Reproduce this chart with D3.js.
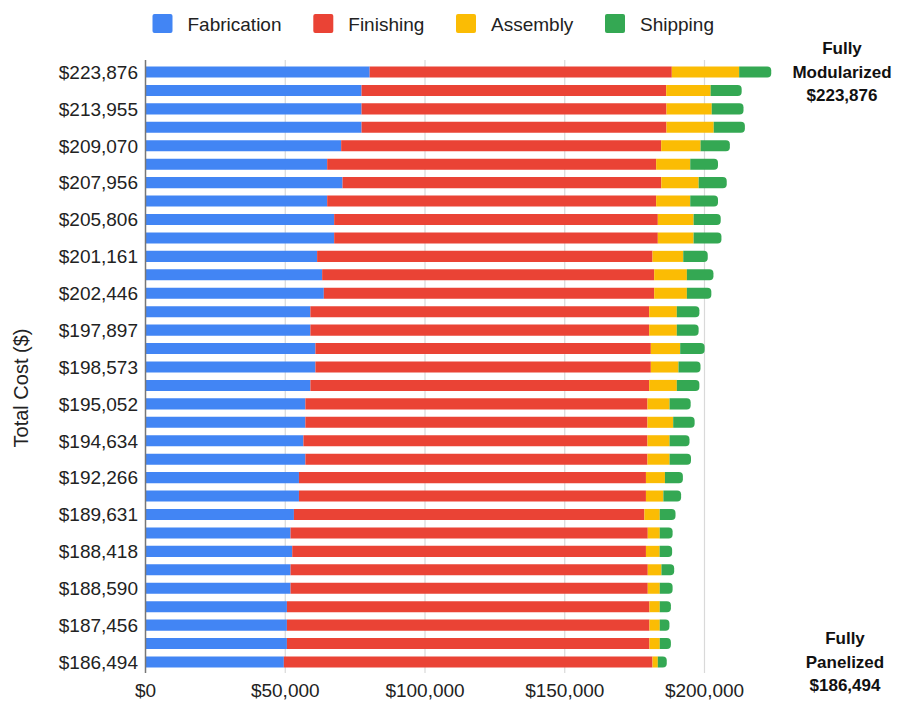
<!DOCTYPE html>
<html>
<head>
<meta charset="utf-8">
<script src="https://cdn.jsdelivr.net/npm/d3@7/dist/d3.min.js"></script>
<style>
  html, body { margin: 0; padding: 0; background: #fff; }
  svg { display: block; font-family: "Liberation Sans", Arial, sans-serif; }
</style>
</head>
<body>
<svg id="chart" width="898" height="702"></svg>
<script>
// Category labels (total cost of each configuration); only every other one is shown on the axis
const categories = [
  "$223,876", "$213,300", "$213,955", "$214,450", "$209,070", "$204,830", "$207,956", "$204,830",
  "$205,806", "$206,060", "$201,161", "$203,200", "$202,446", "$198,170", "$197,897", "$200,050",
  "$198,573", "$198,170", "$195,052", "$196,470", "$194,634", "$195,170", "$192,266", "$191,630",
  "$189,631", "$188,590", "$188,418", "$189,150", "$188,590", "$187,980", "$187,456", "$187,980",
  "$186,494"
];
const fabrication = [
  80200, 77300, 77300, 77300, 70000, 65000, 70500, 65000,
  67500, 67500, 61400, 63200, 63800, 59000, 59000, 60800,
  60800, 59000, 57200, 57200, 56500, 57200, 54900, 54900,
  53100, 51900, 52500, 51900, 51900, 50600, 50600, 50600,
  49500
];
const finishing = [
  108100, 109000, 109100, 109100, 114500, 117700, 114050, 117700,
  115800, 115800, 120000, 118800, 118200, 121200, 121200, 120000,
  120000, 121200, 122400, 122400, 123100, 122400, 124150, 124150,
  125400, 127800, 126550, 127800, 127800, 129700, 129700, 129700,
  131900
];
const assembly = [
  24100, 15900, 16200, 16900, 14100, 12200, 13360, 12200,
  12800, 12800, 11000, 11700, 11700, 9900, 9900, 10500,
  9900, 9900, 7900, 9200, 7900, 7900, 6800, 6230,
  5480, 4300, 4900, 4900, 4300, 3700, 3700, 3700,
  1900
];
const shipping = [
  11476, 11100, 11355, 11150, 10470, 9930, 10046, 9930,
  9706, 9960, 8761, 9500, 8746, 8070, 7797, 8750,
  7873, 8070, 7552, 7670, 7134, 7670, 6416, 6350,
  5651, 4590, 4468, 4550, 4590, 3980, 3456, 3980,
  3194
];
const seriesNames = ["Fabrication", "Finishing", "Assembly", "Shipping"];
const seriesColors = ["#4285F4", "#EA4335", "#FBBC04", "#34A853"];
const xTicks = [0, 50000, 100000, 150000, 200000];
const annotationTop = ["Fully", "Modularized", "$223,876"];
const annotationBottom = ["Fully", "Panelized", "$186,494"];

(function () {
const svg = d3.select("#chart");
const rows = categories.map((c, i) => ({
  cat: c, idx: i,
  Fabrication: fabrication[i], Finishing: finishing[i], Assembly: assembly[i], Shipping: shipping[i]
}));

const x = d3.scaleLinear().domain([0, 200000]).range([145.5, 704.5]);
const y = d3.scaleBand().domain(d3.range(categories.length)).range([62.8, 671.2])
  .paddingInner(0.4).paddingOuter(0.2);

const plotTop = 60, plotBottom = 673;

// Gridlines
svg.append("g").selectAll("line").data(xTicks.filter(t => t > 0)).join("line")
  .attr("x1", d => x(d)).attr("x2", d => x(d))
  .attr("y1", plotTop).attr("y2", plotBottom)
  .attr("stroke", "#d9d9d9").attr("stroke-width", 1.2);

// Stacked bars
const stacked = d3.stack().keys(seriesNames)(rows);

function roundRight(x0, x1, y0, h, r) {
  r = Math.min(r, (x1 - x0), h / 2);
  return `M${x0},${y0}H${x1 - r}A${r},${r} 0 0 1 ${x1},${y0 + r}V${y0 + h - r}A${r},${r} 0 0 1 ${x1 - r},${y0 + h}H${x0}Z`;
}

const g = svg.append("g");
stacked.forEach((layer, li) => {
  const isLast = li === stacked.length - 1;
  g.append("g").attr("fill", seriesColors[li])
    .selectAll("path").data(layer).join("path")
    .attr("d", d => {
      const x0 = x(d[0]), x1 = x(d[1]), y0 = y(d.data.idx), h = y.bandwidth();
      if (isLast) return roundRight(x0, x1, y0, h, 4);
      return `M${x0},${y0}H${x1}V${y0 + h}H${x0}Z`;
    });
});

// Left axis line
svg.append("line")
  .attr("x1", x(0)).attr("x2", x(0)).attr("y1", plotTop).attr("y2", plotBottom)
  .attr("stroke", "#777").attr("stroke-width", 1.5);

// Y tick labels (every other category)
svg.append("g").selectAll("text").data(rows.filter(r => r.idx % 2 === 0)).join("text")
  .attr("x", 138).attr("y", d => y(d.idx) + y.bandwidth() / 2)
  .attr("dy", "0.36em").attr("text-anchor", "end")
  .attr("font-size", 19).attr("fill", "#222")
  .text(d => d.cat);

// X tick labels
const fmt = d3.format("$,");
svg.append("g").selectAll("text").data(xTicks).join("text")
  .attr("x", d => x(d)).attr("y", 697)
  .attr("text-anchor", "middle")
  .attr("font-size", 19).attr("fill", "#222")
  .text(d => fmt(d));

// Y axis title
svg.append("text")
  .attr("transform", "translate(28,388) rotate(-90)")
  .attr("text-anchor", "middle")
  .attr("font-size", 20).attr("fill", "#222")
  .text("Total Cost ($)");

// Legend
const legendX = [152.5, 313.3, 456, 605];
const lg = svg.append("g");
seriesNames.forEach((name, i) => {
  lg.append("rect").attr("x", legendX[i]).attr("y", 14).attr("width", 20).attr("height", 19)
    .attr("rx", 2).attr("fill", seriesColors[i]);
  lg.append("text").attr("x", legendX[i] + 35).attr("y", 30.5)
    .attr("font-size", 19).attr("fill", "#222").text(name);
});

// Annotations
function annotate(lines, cx, y0) {
  svg.append("text").attr("text-anchor", "middle").attr("font-size", 17)
    .attr("font-weight", "bold").attr("fill", "#111")
    .selectAll("tspan").data(lines).join("tspan")
    .attr("x", cx).attr("y", (d, i) => y0 + i * 23.5).text(d => d);
}
annotate(annotationTop, 842, 54);
annotate(annotationBottom, 845, 644);
})();
</script>
</body>
</html>
